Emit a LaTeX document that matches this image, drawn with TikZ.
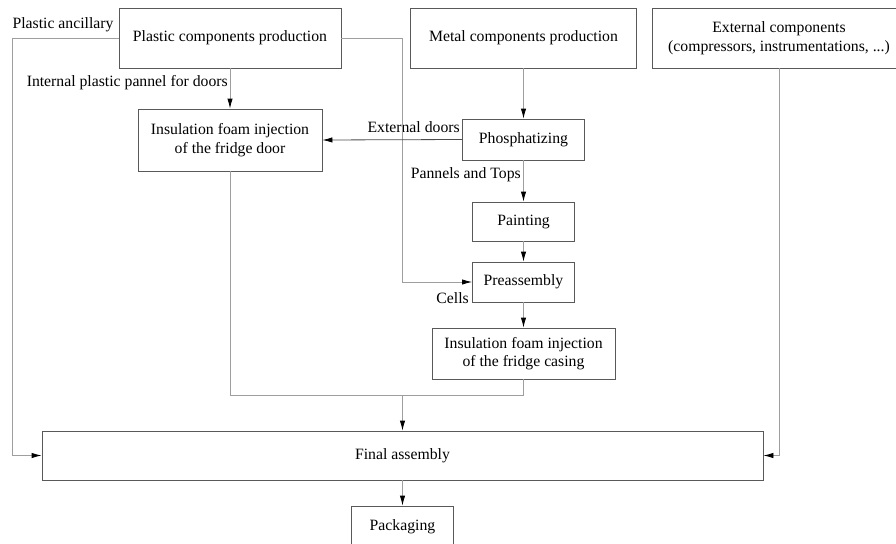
\documentclass[tikz,border=0pt]{standalone}
\usepackage{fontspec}
\setmainfont{Liberation Serif}
\usepackage{tikz}
\usetikzlibrary{arrows.meta}
\tikzset{
>={Latex[length=7.5pt,width=4pt]}, % narrow filled heads
x=0.75pt, y=-0.75pt, % one unit is one pixel of the sketch
every node/.style={font=\fontsize{11.8}{14}\selectfont, inner sep=0pt}, % text size for all labels
box/.style={draw=black!65, line width=0.6pt, align=center}, % process boxes
flow/.style={draw=black!38, line width=0.6pt, -{Latex[black,length=7.5pt,width=4pt]}}, % light connectors
plainflow/.style={draw=black!38, line width=0.6pt}, % connector without head
}

\begin{document}
\begin{tikzpicture}
		\useasboundingbox (0,0) rectangle (896,543);
		\node[box, minimum width=166.5pt, minimum height=45pt] (plastic) at (230,38) {Plastic components production};
		\node[box, minimum width=169.5pt, minimum height=45pt] (metal) at (523.5,38) {Metal components production};
		\node[box, minimum width=190.5pt, minimum height=45pt] (external) at (779,38) {External components\\(compressors, instrumentations, ...)};
		\node[box, minimum width=138pt, minimum height=46.5pt] (door) at (230,140) {Insulation foam injection\\of the fridge door};
		\node[box, minimum width=91.5pt, minimum height=30.75pt] (phosph) at (523.5,139.5) {Phosphatizing};
		\node[box, minimum width=76.5pt, minimum height=29.25pt] (paint) at (523.5,221.5) {Painting};
		\node[box, minimum width=76.5pt, minimum height=30pt] (preass) at (523.5,282) {Preassembly};
		\node[box, minimum width=137.25pt, minimum height=38.25pt] (casing) at (523.5,353.5) {Insulation foam injection\\of the fridge casing};
		\node[box, minimum width=540.75pt, minimum height=36.75pt] (final) at (402.5,455.5) {Final assembly};
		\node[box, minimum width=76.5pt, minimum height=31.5pt] (pack) at (402.5,527) {Packaging};

		% corners of the routed lines
		\coordinate (lcorner) at (12,455.5);
		\coordinate (rcorner) at (402,282);
		\coordinate (join) at (402.5,395);

		% edge labels
		\node (ancillary) at (63,25) {Plastic ancillary};
		\node[anchor=east] (internal) at (228,83) {Internal plastic pannel for doors};
		\node[anchor=east] (extdoors) at (460,127) {External doors};
		\node[anchor=east] (tops) at (521,175) {Pannels and Tops};
		\node[anchor=east] (cells) at (469,298) {Cells};

		\draw[flow] (plastic.west) -| (lcorner) -- (final.west);
		\draw[flow] (plastic.east) -| (rcorner) -- (preass.west);
		\draw[flow] (plastic.south) -- (door.north);
		\draw[flow] (metal.south) -- (phosph.north);
		\draw[flow, draw=black!70] (phosph.west) -- (door.east);
		\draw[flow] (phosph.south) -- (paint.north);
		\draw[flow] (paint.south) -- (preass.north);
		\draw[flow] (preass.south) -- (casing.north);
		\draw[plainflow] (door.south) |- (join);
		\draw[plainflow] (casing.south) |- (join);
		\draw[flow] (join) -- (final.north);
		\draw[flow] (external.south) |- (final.east);
		\draw[flow] (final.south) -- (pack.north);
	\end{tikzpicture}
\end{document}
